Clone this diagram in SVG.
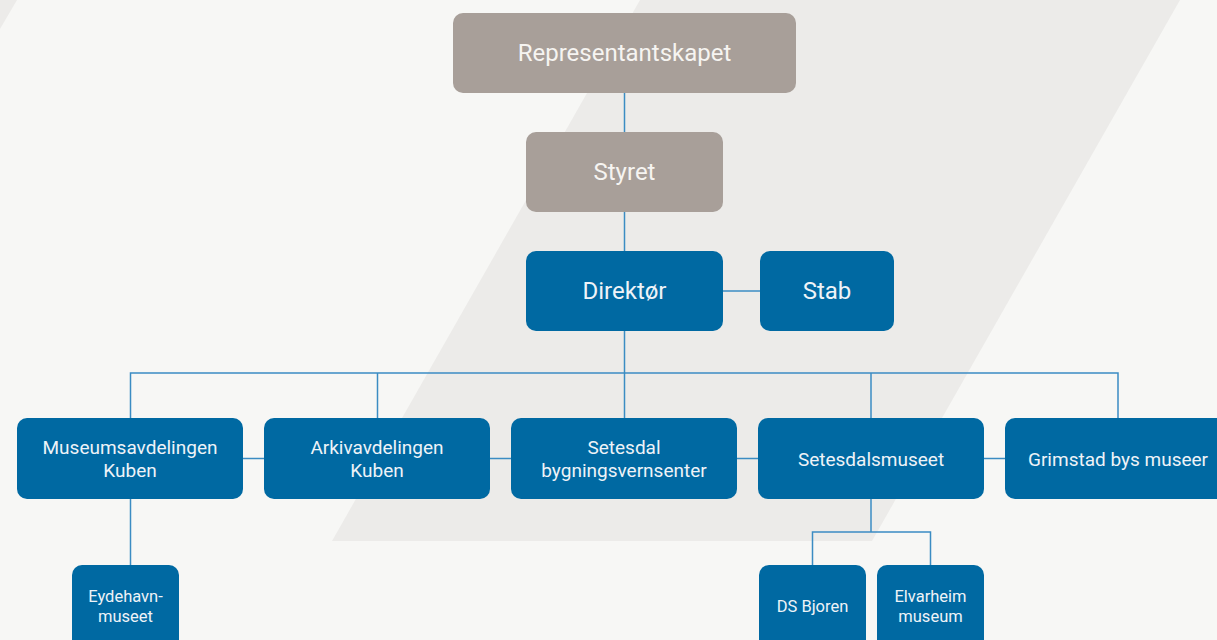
<svg xmlns="http://www.w3.org/2000/svg" width="1217" height="640" viewBox="0 0 1217 640">
  <style>
    .gray { fill: #a89f99; }
    .blue { fill: #0069a2; }
    .t { font-family: Roboto, "Liberation Sans", sans-serif; text-anchor: middle; dominant-baseline: central; }
    .tg { fill: #f6f4f1; font-size: 24px; }
    .tb { fill: #eef3f8; }
    .big { font-size: 24px; }
    .mid { font-size: 19px; }
    .sm { font-size: 16.5px; }
    .conn { fill: none; stroke: #3b8cc3; stroke-width: 1.5; }
  </style>
  <rect width="1217" height="640" fill="#f7f7f5"/>
  <polygon points="640,0 1180,0 872,541 332,541" fill="#ecebe9"/>
  <polygon points="0,0 17,0 0,29" fill="#ecebe9"/>

  <g id="connectors" class="conn">
    <line x1="624.5" y1="93" x2="624.5" y2="132"/>
    <line x1="624.5" y1="212" x2="624.5" y2="251"/>
    <line x1="723" y1="291" x2="760" y2="291"/>
    <line x1="624.5" y1="331" x2="624.5" y2="418"/>
    <polyline points="130.5,418 130.5,373 1118,373 1118,418"/>
    <line x1="377.5" y1="373" x2="377.5" y2="418"/>
    <line x1="871" y1="373" x2="871" y2="418"/>
    <line x1="243" y1="458.5" x2="264" y2="458.5"/>
    <line x1="490" y1="458.5" x2="511" y2="458.5"/>
    <line x1="737" y1="458.5" x2="758" y2="458.5"/>
    <line x1="984" y1="458.5" x2="1005" y2="458.5"/>
    <line x1="130.5" y1="499" x2="130.5" y2="565"/>
    <line x1="871" y1="499" x2="871" y2="532"/>
    <polyline points="812.5,565 812.5,532 930.5,532 930.5,565"/>
  </g>

  <g id="representantskapet">
    <rect class="gray" x="453" y="13" width="343" height="80" rx="10"/>
    <text class="t tg" x="624.5" y="53">Representantskapet</text>
  </g>
  <g id="styret">
    <rect class="gray" x="526" y="132" width="197" height="80" rx="10"/>
    <text class="t tg" x="624.5" y="172">Styret</text>
  </g>
  <g id="direktor">
    <rect class="blue" x="526" y="251" width="197" height="80" rx="10"/>
    <text class="t tb big" x="624.5" y="291">Direktør</text>
  </g>
  <g id="stab">
    <rect class="blue" x="760" y="251" width="134" height="80" rx="10"/>
    <text class="t tb big" x="827" y="291">Stab</text>
  </g>
  <g id="museumsavdelingen">
    <rect class="blue" x="17" y="418" width="226" height="81" rx="10"/>
    <text class="t tb mid" x="130" y="447">Museumsavdelingen</text>
    <text class="t tb mid" x="130" y="470">Kuben</text>
  </g>
  <g id="arkivavdelingen">
    <rect class="blue" x="264" y="418" width="226" height="81" rx="10"/>
    <text class="t tb mid" x="377" y="447">Arkivavdelingen</text>
    <text class="t tb mid" x="377" y="470">Kuben</text>
  </g>
  <g id="bygningsvernsenter">
    <rect class="blue" x="511" y="418" width="226" height="81" rx="10"/>
    <text class="t tb mid" x="624" y="447">Setesdal</text>
    <text class="t tb mid" x="624" y="470">bygningsvernsenter</text>
  </g>
  <g id="setesdalsmuseet">
    <rect class="blue" x="758" y="418" width="226" height="81" rx="10"/>
    <text class="t tb mid" x="871" y="459">Setesdalsmuseet</text>
  </g>
  <g id="grimstad">
    <rect class="blue" x="1005" y="418" width="226" height="81" rx="10"/>
    <text class="t tb mid" x="1118" y="459">Grimstad bys museer</text>
  </g>
  <g id="eydehavn">
    <rect class="blue" x="72" y="565" width="107" height="90" rx="10"/>
    <text class="t tb sm" x="125.5" y="596">Eydehavn-</text>
    <text class="t tb sm" x="125.5" y="616">museet</text>
  </g>
  <g id="dsbjoren">
    <rect class="blue" x="759" y="565" width="107" height="90" rx="10"/>
    <text class="t tb sm" x="812.5" y="606">DS Bjoren</text>
  </g>
  <g id="elvarheim">
    <rect class="blue" x="877" y="565" width="107" height="90" rx="10"/>
    <text class="t tb sm" x="930.5" y="596">Elvarheim</text>
    <text class="t tb sm" x="930.5" y="616">museum</text>
  </g>
</svg>
